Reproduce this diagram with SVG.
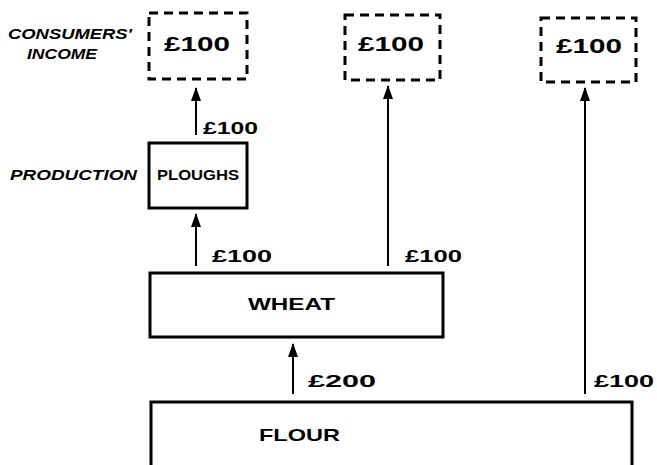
<svg xmlns="http://www.w3.org/2000/svg" width="657" height="465" viewBox="0 0 657 465">
<defs>
<marker id="ah" viewBox="0 0 14 10" refX="13" refY="5" markerWidth="14" markerHeight="10" markerUnits="userSpaceOnUse" orient="auto">
<path d="M0,0 L14,5 L0,10 Z" fill="#000"/>
</marker>
</defs>
<style>
.box{fill:#fff;stroke:#000;stroke-width:3}
.dash{fill:#fff;stroke:#000;stroke-width:3;stroke-dasharray:9 6}
.t{font-family:"Liberation Sans",Arial,sans-serif;font-weight:bold;fill:#000}
.lbl{font-family:"Liberation Sans",Arial,sans-serif;font-weight:bold;font-style:italic;fill:#000;font-size:15px}
.c{stroke:#000;stroke-width:2;fill:none}
</style>
<rect width="657" height="465" fill="#fff"/>
<g id="side-labels">
<text class="lbl" x="8" y="39" textLength="124" lengthAdjust="spacingAndGlyphs">CONSUMERS'</text>
<text class="lbl" x="27" y="59" textLength="70" lengthAdjust="spacingAndGlyphs">INCOME</text>
<text class="lbl" x="10" y="180" textLength="127" lengthAdjust="spacingAndGlyphs">PRODUCTION</text>
</g>
<g id="income1"><rect class="dash" x="149" y="13" width="98" height="66"/><text class="t" x="164" y="51" font-size="20" textLength="66" lengthAdjust="spacingAndGlyphs">£100</text></g>
<g id="income2"><rect class="dash" x="345" y="15" width="95" height="65"/><text class="t" x="358" y="51" font-size="20" textLength="66" lengthAdjust="spacingAndGlyphs">£100</text></g>
<g id="income3"><rect class="dash" x="541" y="18" width="95" height="64"/><text class="t" x="556" y="53" font-size="20" textLength="66" lengthAdjust="spacingAndGlyphs">£100</text></g>
<g id="ploughs"><rect class="box" x="149" y="143" width="98" height="65"/><text class="t" x="157" y="180" font-size="14" textLength="82" lengthAdjust="spacingAndGlyphs">PLOUGHS</text></g>
<g id="wheat"><rect class="box" x="150" y="273" width="293" height="64"/><text class="t" x="248" y="310" font-size="16" textLength="87" lengthAdjust="spacingAndGlyphs">WHEAT</text></g>
<g id="flour"><rect class="box" x="151" y="402" width="481" height="80"/><text class="t" x="259" y="441" font-size="17" textLength="81" lengthAdjust="spacingAndGlyphs">FLOUR</text></g>
<g id="connectors">
<line class="c" x1="196" y1="135" x2="196" y2="88" marker-end="url(#ah)"/>
<text class="t" x="203" y="134" font-size="16" textLength="55" lengthAdjust="spacingAndGlyphs">£100</text>
<line class="c" x1="196" y1="266" x2="196" y2="214" marker-end="url(#ah)"/>
<text class="t" x="212" y="262" font-size="17" textLength="60" lengthAdjust="spacingAndGlyphs">£100</text>
<line class="c" x1="388" y1="266" x2="388" y2="86" marker-end="url(#ah)"/>
<text class="t" x="405" y="262" font-size="17" textLength="57" lengthAdjust="spacingAndGlyphs">£100</text>
<line class="c" x1="293" y1="394" x2="293" y2="344" marker-end="url(#ah)"/>
<text class="t" x="308" y="387" font-size="17" textLength="68" lengthAdjust="spacingAndGlyphs">£200</text>
<line class="c" x1="585" y1="394" x2="585" y2="88" marker-end="url(#ah)"/>
<text class="t" x="594" y="387" font-size="17" textLength="60" lengthAdjust="spacingAndGlyphs">£100</text>
</g>
</svg>
